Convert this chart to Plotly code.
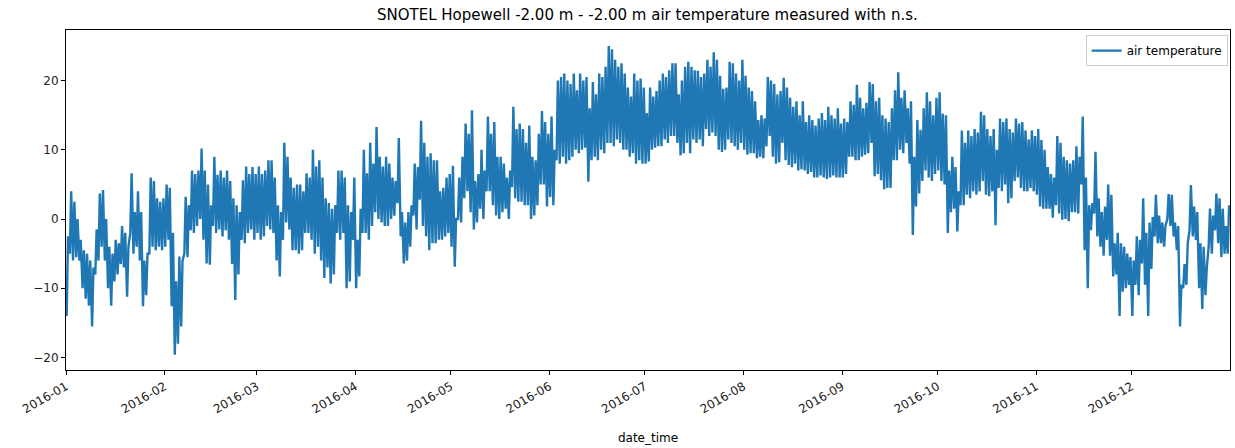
import pandas as pd
import plotly.graph_objects as go

# Daily high / low air temperature (deg C), per month
jan_hi = [-2.5,4,2.5,0,-3,-4.5,-5,-6,-7,-1.5,3.7,4.2,0,-4,-5,-3,-3.5,-1,-2,-4,6.6,1,4,1,-6,-5,6,5.5,3,2.5,3]
jan_lo = [-14,-5,-6,-5.5,-6,-10,-11.5,-12.5,-15.5,-8,-6,-4,-6,-10,-12.5,-9,-8,-6.5,-7,-11.2,-2,-5,-4,-6,-12.6,-11,-5,-4,-4.5,-4,-4.5]
feb_hi = [5,4.5,-2,-9,-5.4,-6,3.2,2,7,6.5,7,10.2,7,5,2,9,6.4,7,6,7,5.5,3,2,1,5.6,7.6,6.5,7.5,6.5]
feb_lo = [-4,-3,-12.6,-19.6,-18,-15.5,-5,-5.5,-1.6,-2,-1,0,-3,-6.4,-6.6,-1,-2,-1.5,-2.5,-1.6,-3,-6.5,-11.7,-8,-3,-3.5,-2,-1.5,-3]
mar_hi = [7.6,6.5,7,8.5,8.5,6,2,1,11,9,6,4.5,5,5,4,6.6,6,10,7.6,8.5,6,3,2.3,1.5,2,7,7,6,2,1,6]
mar_lo = [-2,-3,-2.5,-1,-1.5,-2,-6,-8.3,-3,-0.5,-1.5,-4.5,-4.5,-5,-4.5,-2,-2,-3,-5,-4,-6,-8.5,-7,-9.3,-8,-2,-3,-2,-10,-9,-3]
apr_hi = [-3,1.5,10,6.6,11,8,13.3,9,7.6,9,8,6,5.5,11.7,1,-0.5,1,2,8,7.5,14.2,11,9,9.5,8.5,8.5,4,4.5,6,6.5]
apr_lo = [-10,-8.3,-2,-2,-3,-1,1,0,-0.5,-1,-1,0,0.5,2.3,-2.5,-6.4,-6,-4,0.5,-1.5,2.8,-1,-2.5,-4.5,-3.5,-3.5,-3,-3,-2.5,-2]
may_hi = [7.7,0,6,9,13.8,12.3,15.7,5.5,6.5,10,7,14.8,12.3,14,9,9,8,6,7,16.2,13,13.8,13,11,13.5,9,8.5,12.3,15.6,14,12.3]
may_lo = [-4,-6.9,0,-0.5,3,4,1,-1.5,-0.5,1.5,0,4,4,2,0.5,0,1,1.5,0,4.6,3,2.5,2.5,2,2,0,0.5,2,5,5,1.8]
jun_hi = [14.8,10,20,20.5,21,20,19.5,21,18.6,21,20,20.5,16,19.8,18,21,20.5,22,25,24.5,23,22,22.5,21,19,17.7,21,20,20.3,19]
jun_lo = [3.2,2,8.5,8,9,8,8.5,9,10,9.5,10,10.3,5.4,8.5,9,8.5,10,9.5,11,11,10.5,11.5,11,10,10,9,9.5,8,8.5,8]
jul_hi = [15.3,19,17.7,18.5,20,21,20.5,21.5,22.5,22.5,18,20,22,22.7,22,21.5,21.4,20.5,21,23,22,24.1,23,20.7,18.8,19,22.7,22.5,21,20,23]
jul_lo = [8,8.3,10,10.3,10.5,10.5,11.5,11,12,12,11,9.2,9.5,11,9.5,11.5,11,11.5,10.5,13,12,12.5,12,10,9.7,10,11.5,11,10.5,10,11]
aug_hi = [20.7,19,18.5,17,14.3,15,14.5,20.5,20,19.5,18,18.5,20.4,19,17.5,16.2,17,15,17,14,15,14.3,13.5,14.5,15.3,14.3,16.2,15,14.5,16,13.8]
aug_lo = [10,9.3,9.5,9.5,8.8,9,8.8,10.5,12,9,8,8.2,11,8.5,7.8,7.5,8,7,7.2,7,6.5,6.8,6,6,6.3,6,5.8,6,6.3,6,6]
sep_hi = [14.5,14,17,16.5,19.4,17.5,16,16.8,19.8,19.5,17,17.5,15,14.5,14,16,18.6,21.2,17.5,18.6,16,17,9,14.3,12.9,16,18.3,17,15,17.5]
sep_lo = [6,6.5,9,9,8.5,8.5,9,9.3,9.5,11,6.2,6.5,5.6,4.3,4.5,4.5,8.5,8.5,10,9.5,11,8,-2.3,1.8,3.7,5.5,7,6,5.5,6.5]
oct_hi = [18.3,15.2,15,7,9,7.5,4,12.8,11,12.8,12,13,12.5,15.5,15,13,12,13,10,14.5,14,14.5,13,12.5,14.5,13.8,14,12.8,11.5,12.8,12]
oct_lo = [7,5.5,5,-2,1,1.5,-1.8,2,2,3.5,3,4,3.5,4,5.5,3.5,3.3,4,-0.9,4.5,4,5,2.3,3,5.5,6,4.5,4,4,4.5,4]
nov_hi = [13,11.4,10,7.5,6.5,6,12,11,9,8.5,8,8.5,10.5,9,14.8,6,2,2.3,9.7,3,1,1.8,5,3.5,-3.5,-2,-3.5,-4,-5,-5.5]
nov_lo = [3.5,1.8,1.5,1.5,1.5,0.2,2,0.8,-0.1,0,-0.3,1,1,0.8,5,-4.5,-10,-1.6,0.8,-2.5,-4,-5.3,-3,-5.3,-8.3,-8,-14,-10.5,-10,-9.5]
dec_hi = [-6,-2.5,-3,3,-2,-0.5,0.3,3.5,0.5,-0.5,-1,3.6,3.5,-0.5,-1,-9.5,-6.5,-3.5,4.9,1.8,1,-3.5,-4,-7,1.5,0.5,3.7,3,1.5,-1,2]
dec_lo = [-14,-9.5,-11,-6.4,-9.5,-14,-7.2,-2.5,-3.5,-3.5,-4,0,-1,-2.5,-4.5,-15.5,-10,-9.5,-1.6,-2.5,-3,-10,-13,-11,-4,-5,-1.6,-3.5,-5.5,-5,-5]

daily_hi = jan_hi + feb_hi + mar_hi + apr_hi + may_hi + jun_hi + jul_hi + aug_hi + sep_hi + oct_hi + nov_hi + dec_hi
daily_lo = jan_lo + feb_lo + mar_lo + apr_lo + may_lo + jun_lo + jul_lo + aug_lo + sep_lo + oct_lo + nov_lo + dec_lo

days = pd.date_range("2016-01-01", periods=len(daily_lo), freq="D")
times, temps = [], []
for d, lo, hi in zip(days, daily_lo, daily_hi):
    times.append(d + pd.Timedelta(hours=5))
    temps.append(lo)
    times.append(d + pd.Timedelta(hours=15))
    temps.append(hi)

tick_vals = pd.date_range("2016-01-01", "2016-12-01", freq="MS")
tick_text = [t.strftime("%Y-%m") for t in tick_vals]

fig = go.Figure()
fig.add_trace(go.Scatter(x=times, y=temps, mode="lines", name="air temperature",
                         line=dict(color="#1f77b4", width=2.4), showlegend=True))

axis_common = dict(showline=True, linecolor="black", linewidth=1, mirror=True,
                   showgrid=False, zeroline=False, ticks="outside", ticklen=4,
                   tickcolor="black", automargin=False,
                   tickfont=dict(family="DejaVu Sans", size=12, color="#222222"))

fig.update_layout(
    width=1235, height=448,
    margin=dict(l=66, r=5, t=30, b=78),
    paper_bgcolor="white", plot_bgcolor="white",
    title=dict(text="SNOTEL Hopewell -2.00 m - -2.00 m air temperature measured with n.s.",
               x=0.5242, xanchor="center", y=0.968, yanchor="middle", automargin=False,
               font=dict(family="DejaVu Sans", size=15, color="black")),
    legend=dict(x=0.998, y=0.985, xanchor="right", yanchor="top",
                bordercolor="#cccccc", borderwidth=1, bgcolor="rgba(255,255,255,0.8)",
                font=dict(family="DejaVu Sans", size=12, color="black")),
    showlegend=True,
)
fig.update_xaxes(range=["2016-01-01", "2016-12-31 22:00"], tickvals=tick_vals, ticktext=tick_text,
                 tickangle=-30,
                 title=dict(text="date_time", font=dict(family="DejaVu Sans", size=12, color="black"),
                            standoff=18),
                 **axis_common)
fig.update_yaxes(range=[-21.8, 27.3], tickvals=[-20, -10, 0, 10, 20], **axis_common)

fig.write_html("out.html", config={"displayModeBar": False},
               post_script="document.body.style.margin='0';document.body.style.overflow='hidden';")
